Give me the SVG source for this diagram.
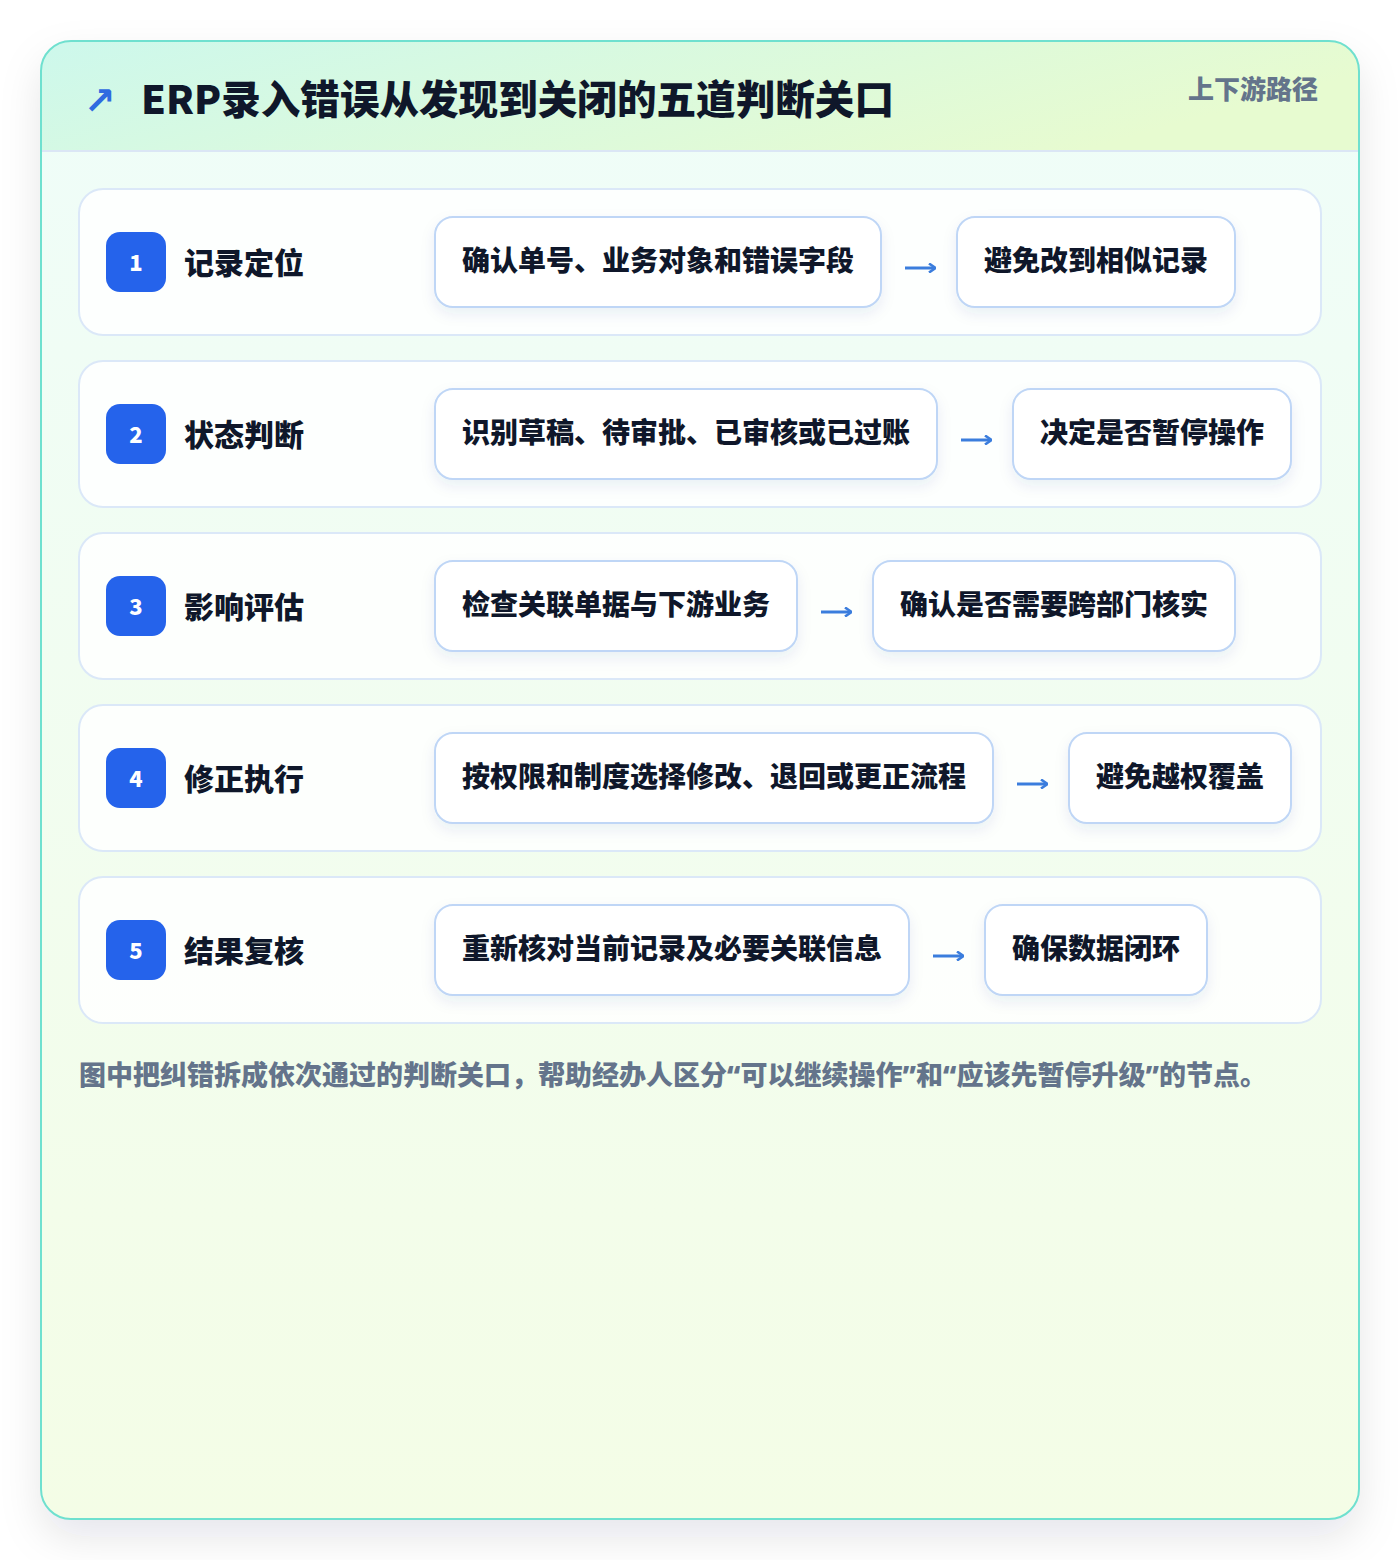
<svg xmlns="http://www.w3.org/2000/svg" width="1400" height="1560" viewBox="0 0 1400 1560">
<defs>
<linearGradient id="hdr" x1="0" y1="0" x2="1" y2="0.3">
<stop offset="0" stop-color="#cdf8ec"/>
<stop offset="1" stop-color="#e7fbd0"/>
</linearGradient>
<linearGradient id="body" x1="0" y1="0" x2="0" y2="1">
<stop offset="0" stop-color="#effdf9"/>
<stop offset="1" stop-color="#f4fde6"/>
</linearGradient>
<clipPath id="cardClip"><rect x="41" y="41" width="1318" height="1478" rx="30"/></clipPath>
<filter id="cardShadow" x="-10%" y="-10%" width="120%" height="120%">
<feDropShadow dx="0" dy="18" stdDeviation="20" flood-color="#0f172a" flood-opacity="0.10"/>
</filter>
<filter id="boxShadow" x="-10%" y="-20%" width="120%" height="160%">
<feDropShadow dx="0" dy="6" stdDeviation="7" flood-color="#1e3a8a" flood-opacity="0.08"/>
</filter>
<marker id="ah" viewBox="0 0 10 10" refX="9" refY="5" markerWidth="10" markerHeight="10" markerUnits="userSpaceOnUse" orient="auto">
<path d="M3,0.5 L9.5,5 L3,9.5" fill="none" stroke="#3b7ddd" stroke-width="2.6" stroke-linejoin="miter"/>
</marker>
<style>
text{font-family:"Noto Sans CJK SC","Noto Sans",sans-serif;font-weight:900}
.title{font-size:39.6px;fill:#0f172a}
.tag{font-size:26px;fill:#64748b}
.row{fill:#ffffff;fill-opacity:0.85;stroke:#dbe8f8;stroke-width:2}
.badge{fill:#2563eb}
.num{font-size:22px;fill:#ffffff;text-anchor:middle}
.label{font-size:30px;fill:#0f172a}
.box{fill:#ffffff;stroke:#bfd6f6;stroke-width:2}
.bt{font-size:28px;fill:#0f172a}
.conn{stroke:#3b7ddd;stroke-width:3;fill:none;marker-end:url(#ah)}
.note{font-size:27px;fill:#64748b;font-family:"Noto Sans","Noto Sans CJK SC",sans-serif}
</style>
</defs>
<rect width="1400" height="1560" fill="#ffffff"/>
<g id="card">
<rect x="41" y="41" width="1318" height="1478" rx="30" fill="url(#body)" filter="url(#cardShadow)"/>
<g clip-path="url(#cardClip)">
<rect x="41" y="41" width="1318" height="110" fill="url(#hdr)"/>
<line x1="41" y1="151" x2="1359" y2="151" stroke="#dbe6f5" stroke-width="2"/>
</g>
<rect x="41" y="41" width="1318" height="1478" rx="30" fill="none" stroke="#6fe0cf" stroke-width="2"/>
</g>
<g id="header">
<text x="84" y="114" style="font-size:38px;fill:#2f6be0;font-family:'DejaVu Sans',sans-serif;font-weight:700">↗</text>
<text class="title" x="141" y="114">ERP录入错误从发现到关闭的五道判断关口</text>
<text class="tag" x="1318" y="99" text-anchor="end">上下游路径</text>
</g>
<g id="row1">
<rect class="row" x="79" y="189" width="1242" height="146" rx="24"/>
<rect class="badge" x="106" y="232" width="60" height="60" rx="14"/>
<text class="num" x="136" y="271">1</text>
<text class="label" x="184" y="274">记录定位</text>
<rect class="box" x="435" y="217" width="446" height="90" rx="18" filter="url(#boxShadow)"/>
<text class="bt" x="462" y="271">确认单号、业务对象和错误字段</text>
<rect class="box" x="957" y="217" width="278" height="90" rx="18" filter="url(#boxShadow)"/>
<text class="bt" x="984" y="271">避免改到相似记录</text>
</g>
<g id="row2">
<rect class="row" x="79" y="361" width="1242" height="146" rx="24"/>
<rect class="badge" x="106" y="404" width="60" height="60" rx="14"/>
<text class="num" x="136" y="443">2</text>
<text class="label" x="184" y="446">状态判断</text>
<rect class="box" x="435" y="389" width="502" height="90" rx="18" filter="url(#boxShadow)"/>
<text class="bt" x="462" y="443">识别草稿、待审批、已审核或已过账</text>
<rect class="box" x="1013" y="389" width="278" height="90" rx="18" filter="url(#boxShadow)"/>
<text class="bt" x="1040" y="443">决定是否暂停操作</text>
</g>
<g id="row3">
<rect class="row" x="79" y="533" width="1242" height="146" rx="24"/>
<rect class="badge" x="106" y="576" width="60" height="60" rx="14"/>
<text class="num" x="136" y="615">3</text>
<text class="label" x="184" y="618">影响评估</text>
<rect class="box" x="435" y="561" width="362" height="90" rx="18" filter="url(#boxShadow)"/>
<text class="bt" x="462" y="615">检查关联单据与下游业务</text>
<rect class="box" x="873" y="561" width="362" height="90" rx="18" filter="url(#boxShadow)"/>
<text class="bt" x="900" y="615">确认是否需要跨部门核实</text>
</g>
<g id="row4">
<rect class="row" x="79" y="705" width="1242" height="146" rx="24"/>
<rect class="badge" x="106" y="748" width="60" height="60" rx="14"/>
<text class="num" x="136" y="787">4</text>
<text class="label" x="184" y="790">修正执行</text>
<rect class="box" x="435" y="733" width="558" height="90" rx="18" filter="url(#boxShadow)"/>
<text class="bt" x="462" y="787">按权限和制度选择修改、退回或更正流程</text>
<rect class="box" x="1069" y="733" width="222" height="90" rx="18" filter="url(#boxShadow)"/>
<text class="bt" x="1096" y="787">避免越权覆盖</text>
</g>
<g id="row5">
<rect class="row" x="79" y="877" width="1242" height="146" rx="24"/>
<rect class="badge" x="106" y="920" width="60" height="60" rx="14"/>
<text class="num" x="136" y="959">5</text>
<text class="label" x="184" y="962">结果复核</text>
<rect class="box" x="435" y="905" width="474" height="90" rx="18" filter="url(#boxShadow)"/>
<text class="bt" x="462" y="959">重新核对当前记录及必要关联信息</text>
<rect class="box" x="985" y="905" width="222" height="90" rx="18" filter="url(#boxShadow)"/>
<text class="bt" x="1012" y="959">确保数据闭环</text>
</g>
<g id="connectors">
<path class="conn" d="M905,268 H935"/>
<path class="conn" d="M961,440 H991"/>
<path class="conn" d="M821,612 H851"/>
<path class="conn" d="M1017,784 H1047"/>
<path class="conn" d="M933,956 H963"/>
</g>
<g id="footer">
<text class="note" x="79" y="1085">图中把纠错拆成依次通过的判断关口，帮助经办人区分“可以继续操作”和“应该先暂停升级”的节点。</text>
</g>
</svg>
